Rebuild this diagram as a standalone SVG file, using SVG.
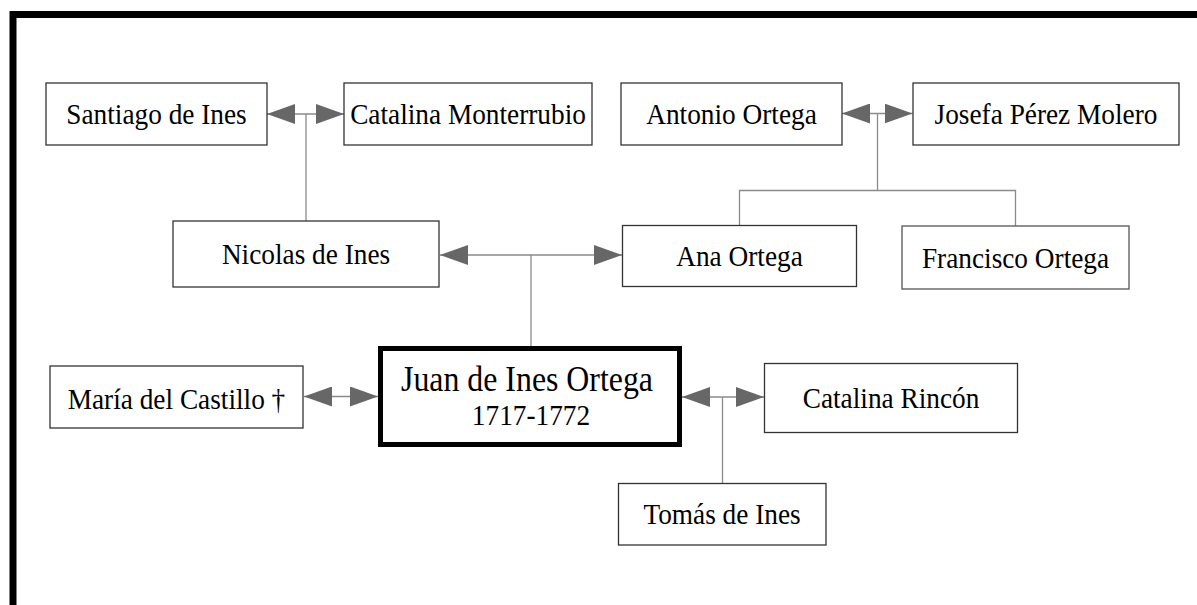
<svg xmlns="http://www.w3.org/2000/svg" width="1197" height="605" viewBox="0 0 1197 605">
<defs>
<marker id="ah" viewBox="0 0 28 20" refX="28" refY="10" markerWidth="28" markerHeight="20" markerUnits="userSpaceOnUse" orient="auto">
<path d="M0,0 L28,10 L0,20 z" fill="#676767"/>
</marker>
</defs>
<style>
.box{fill:#fff;stroke:#333;stroke-width:1.3}
.main{fill:#fff;stroke:#000;stroke-width:5}
.t{font-family:"Liberation Serif","Times New Roman",serif;font-size:30px;fill:#000;text-anchor:middle}
.c{fill:none;stroke:#8a8a8a;stroke-width:1.3}
.a{fill:none;stroke:#8a8a8a;stroke-width:1.3;marker-end:url(#ah)}
</style>
<rect x="0" y="0" width="1197" height="605" fill="#fff"/>
<rect x="13" y="14.5" width="1200" height="610" fill="none" stroke="#000" stroke-width="7"/>
<g id="connectors">
<line class="a" x1="306" y1="114" x2="267" y2="114"/>
<line class="a" x1="306" y1="114" x2="344" y2="114"/>
<line class="c" x1="306" y1="114" x2="306" y2="221"/>
<line class="a" x1="877.5" y1="113.5" x2="842" y2="113.5"/>
<line class="a" x1="877.5" y1="113.5" x2="912.5" y2="113.5"/>
<polyline class="c" points="877.5,113.5 877.5,190.5"/>
<polyline class="c" points="739.5,225 739.5,190.5 1015.5,190.5 1015.5,226"/>
<line class="a" x1="531" y1="255" x2="440" y2="255"/>
<line class="a" x1="531" y1="255" x2="622" y2="255"/>
<line class="c" x1="531" y1="255" x2="531" y2="346"/>
<line class="a" x1="342" y1="396.5" x2="304" y2="396.5"/>
<line class="a" x1="342" y1="396.5" x2="378" y2="396.5"/>
<line class="a" x1="722.5" y1="397" x2="682" y2="397"/>
<line class="a" x1="722.5" y1="397" x2="764" y2="397"/>
<line class="c" x1="722.5" y1="397" x2="722.5" y2="483"/>
</g>
<g id="santiago"><rect class="box" x="46" y="83" width="221" height="62"/><text class="t" transform="translate(156.5 123.5) scale(0.91 1)">Santiago de Ines</text></g>
<g id="catalina-m"><rect class="box" x="344" y="83" width="248" height="62"/><text class="t" transform="translate(468 123.5) scale(0.91 1)">Catalina Monterrubio</text></g>
<g id="antonio"><rect class="box" x="621" y="83" width="221" height="62"/><text class="t" transform="translate(731.5 123.5) scale(0.91 1)">Antonio Ortega</text></g>
<g id="josefa"><rect class="box" x="913" y="83" width="266" height="62"/><text class="t" transform="translate(1046 123.5) scale(0.91 1)">Josefa Pérez Molero</text></g>
<g id="nicolas"><rect class="box" x="173" y="221" width="266" height="66"/><text class="t" transform="translate(306 263.5) scale(0.91 1)">Nicolas de Ines</text></g>
<g id="ana"><rect class="box" x="622.5" y="225.5" width="234" height="61"/><text class="t" transform="translate(739.5 266) scale(0.91 1)">Ana Ortega</text></g>
<g id="francisco"><rect class="box" x="902" y="226" width="227" height="63" style="stroke:#555"/><text class="t" transform="translate(1015.5 268) scale(0.91 1)">Francisco Ortega</text></g>
<g id="maria"><rect class="box" x="50" y="366" width="253" height="62"/><text class="t" transform="translate(176.5 409) scale(0.91 1)">María del Castillo †</text></g>
<g id="juan"><rect class="main" x="380.5" y="348.5" width="299" height="96"/><text class="t" transform="translate(527 391) scale(0.91 1)" style="font-size:35px">Juan de Ines Ortega</text><text class="t" transform="translate(531 425) scale(0.91 1)">1717-1772</text></g>
<g id="catalina-r"><rect class="box" x="764.5" y="363.5" width="253" height="69"/><text class="t" transform="translate(891 408) scale(0.91 1)">Catalina Rincón</text></g>
<g id="tomas"><rect class="box" x="618.5" y="483.5" width="207.5" height="61.5"/><text class="t" transform="translate(722 524) scale(0.91 1)">Tomás de Ines</text></g>
</svg>
